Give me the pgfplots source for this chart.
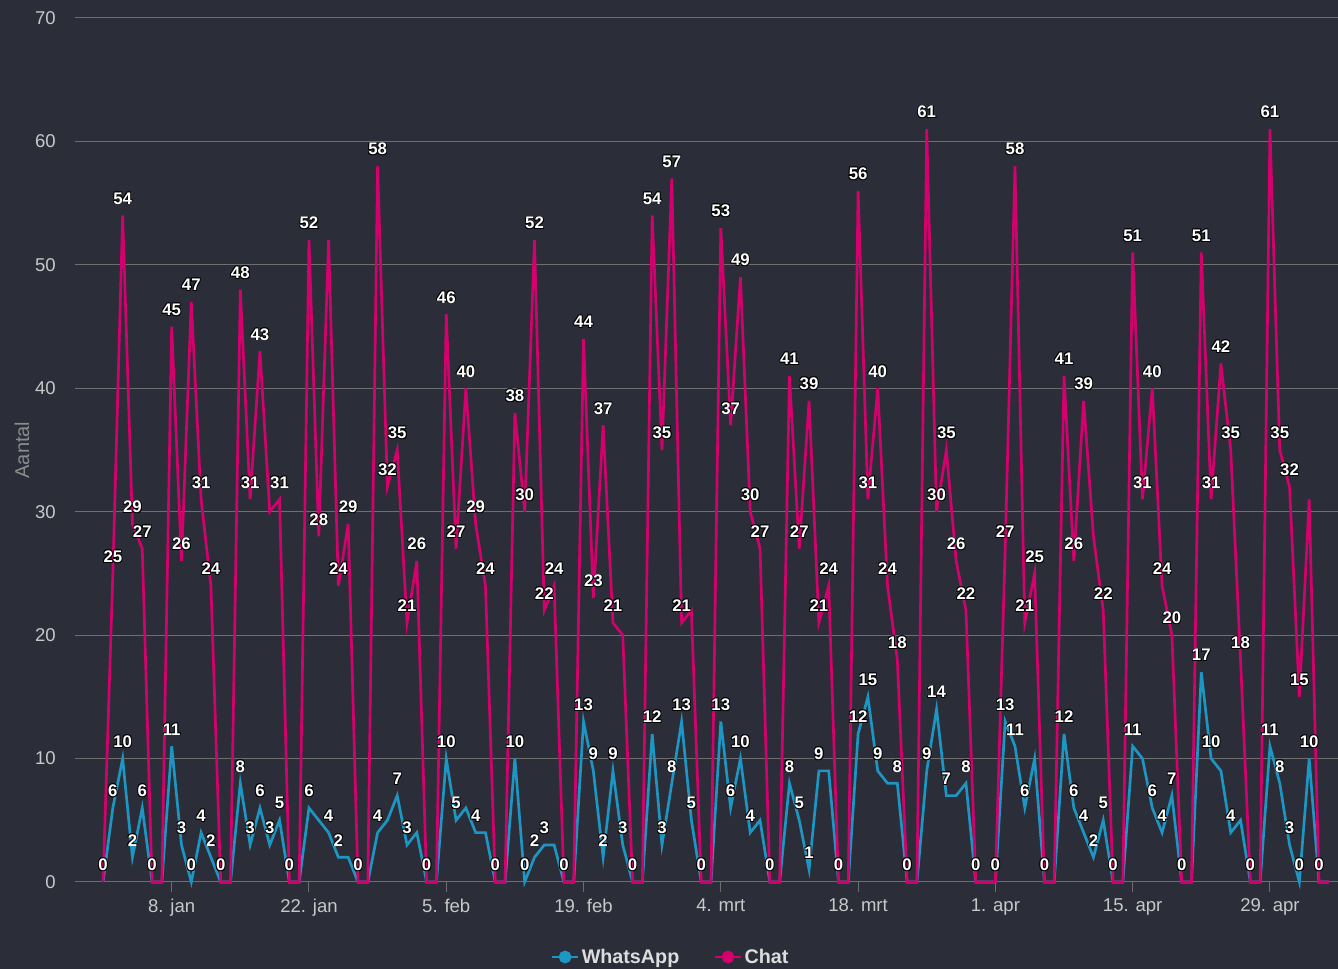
\documentclass[border=0pt]{standalone}
\usepackage{fontspec}
\setmainfont{Liberation Sans}
\usepackage{pgfplots}
\usepackage{pgfplotstable}
\pgfplotsset{compat=1.18}
\definecolor{bg}{HTML}{2B2E38}
\definecolor{gridc}{HTML}{6E6E6E}
\definecolor{tickc}{HTML}{C8C8C8}
\definecolor{chatc}{HTML}{D4006E}
\definecolor{wac}{HTML}{1E96C3}
\definecolor{ttlc}{HTML}{8C8C8C}
\definecolor{legc}{HTML}{DDDDDD}
\newcommand\tickfont{\fontsize{13.9}{16}\selectfont}
\newcommand\lblfont{\fontsize{12.6}{14}\selectfont\bfseries}
% full series: day (0 = 8 jan), Chat, WhatsApp
\pgfplotstableread{
d c w
-7 0 0
-6 25 6
-5 54 10
-4 29 2
-3 27 6
-2 0 0
-1 0 0
0 45 11
1 26 3
2 47 0
3 31 4
4 24 2
5 0 0
6 0 0
7 48 8
8 31 3
9 43 6
10 30 3
11 31 5
12 0 0
13 0 0
14 52 6
15 28 5
16 52 4
17 24 2
18 29 2
19 0 0
20 0 0
21 58 4
22 32 5
23 35 7
24 21 3
25 26 4
26 0 0
27 0 0
28 46 10
29 27 5
30 40 6
31 29 4
32 24 4
33 0 0
34 0 0
35 38 10
36 30 0
37 52 2
38 22 3
39 24 3
40 0 0
41 0 0
42 44 13
43 23 9
44 37 2
45 21 9
46 20 3
47 0 0
48 0 0
49 54 12
50 35 3
51 57 8
52 21 13
53 22 5
54 0 0
55 0 0
56 53 13
57 37 6
58 49 10
59 30 4
60 27 5
61 0 0
62 0 0
63 41 8
64 27 5
65 39 1
66 21 9
67 24 9
68 0 0
69 0 0
70 56 12
71 31 15
72 40 9
73 24 8
74 18 8
75 0 0
76 0 0
77 61 9
78 30 14
79 35 7
80 26 7
81 22 8
82 0 0
83 0 0
84 0 0
85 27 13
86 58 11
87 21 6
88 25 10
89 0 0
90 0 0
91 41 12
92 26 6
93 39 4
94 28 2
95 22 5
96 0 0
97 0 0
98 51 11
99 31 10
100 40 6
101 24 4
102 20 7
103 0 0
104 0 0
105 51 17
106 31 10
107 42 9
108 35 4
109 18 5
110 0 0
111 0 0
112 61 11
113 35 8
114 32 3
115 15 0
116 31 10
117 0 0
118 0 0
}\data
% points whose Chat label is shown
\pgfplotstableread{
d c
-6 25
-5 54
-4 29
-3 27
0 45
1 26
2 47
3 31
4 24
7 48
8 31
9 43
11 31
14 52
15 28
17 24
18 29
21 58
22 32
23 35
24 21
25 26
28 46
29 27
30 40
31 29
32 24
35 38
36 30
37 52
38 22
39 24
42 44
43 23
44 37
45 21
49 54
50 35
51 57
52 21
56 53
57 37
58 49
59 30
60 27
63 41
64 27
65 39
66 21
67 24
70 56
71 31
72 40
73 24
74 18
77 61
78 30
79 35
80 26
81 22
85 27
86 58
87 21
88 25
91 41
92 26
93 39
95 22
98 51
99 31
100 40
101 24
102 20
105 51
106 31
107 42
108 35
109 18
112 61
113 35
114 32
115 15
}\clbl
% points whose WhatsApp label is shown
\pgfplotstableread{
d w
-7 0
-6 6
-5 10
-4 2
-3 6
-2 0
0 11
1 3
2 0
3 4
4 2
5 0
7 8
8 3
9 6
10 3
11 5
12 0
14 6
16 4
17 2
19 0
21 4
23 7
24 3
26 0
28 10
29 5
31 4
33 0
35 10
36 0
37 2
38 3
40 0
42 13
43 9
44 2
45 9
46 3
47 0
49 12
50 3
51 8
52 13
53 5
54 0
56 13
57 6
58 10
59 4
61 0
63 8
64 5
65 1
66 9
68 0
70 12
71 15
72 9
74 8
75 0
77 9
78 14
79 7
81 8
82 0
84 0
85 13
86 11
87 6
89 0
91 12
92 6
93 4
94 2
95 5
96 0
98 11
100 6
101 4
102 7
103 0
105 17
106 10
108 4
110 0
112 11
113 8
114 3
115 0
116 10
117 0
}\wlbl
\pgfplotsset{
  lbl/.style n args={3}{only marks, mark=*, mark size=0pt, forget plot, point meta=y,
    nodes near coords,
    nodes near coords style={anchor=center, xshift=#1, yshift=12.75pt+#2, font=\lblfont, text=#3}},
}
\begin{document}
\begin{tikzpicture}
\fill[bg] (-56.25pt,-65.25pt) rectangle (947.25pt,661.5pt);
\begin{axis}[
  at={(0pt,0pt)}, anchor=south west,
  scale only axis, width=947.25pt, height=648pt,
  xmin=-9.86, xmax=118.94, ymin=0, ymax=70,
  axis x line*=bottom, axis y line*=left,
  x axis line style={draw=gridc, line width=0.75pt, -},
  y axis line style={draw=none},
  ytick={0,10,...,70},
  xtick={0,14,...,112},
  xticklabels={8. jan,22. jan,5. feb,19. feb,4. mrt,18. mrt,1. apr,15. apr,29. apr},
  ytick style={draw=none},
  xtick style={draw=gridc, line width=0.75pt},
  tick align=outside, major tick length=7.5pt,
  ymajorgrids, grid style={draw=gridc, line width=0.75pt},
  /pgf/number format/assume math mode=true,
  yticklabel style={text=tickc, font=\tickfont, anchor=east, inner sep=0pt, xshift=-6.75pt},
  xticklabel style={text=tickc, font=\tickfont, anchor=north, inner sep=0pt, yshift=-5pt},
  ylabel={Aantal},
  ylabel style={at={(axis description cs:-0.042,0.5)}, anchor=center, text=ttlc, font=\fontsize{15}{17}\selectfont},
  legend columns=2,
  legend style={at={(0.472,-0.0868)}, anchor=center, draw=none, fill=none, text=legc,
    font=\fontsize{14.8}{17}\selectfont\bfseries,
    /tikz/every even column/.append style={column sep=24pt}},
  legend image code/.code={\draw[#1, line width=2pt] (0pt,0pt) -- (19pt,0pt); \fill[#1] (9.5pt,0pt) circle (3.75pt);},
  clip=false,
]
\addplot[wac, line width=2pt, mark=none] table[x=d, y=w] {\data};
\addlegendentry{WhatsApp}
\addplot[chatc, line width=2pt, mark=none] table[x=d, y=c] {\data};
\addlegendentry{Chat}
% dark outline copies
\addplot[lbl={0.6pt}{0.6pt}{black}] table[x=d, y=w] {\wlbl};
\addplot[lbl={-0.6pt}{-0.6pt}{black}] table[x=d, y=w] {\wlbl};
\addplot[lbl={0.6pt}{-0.6pt}{black}] table[x=d, y=w] {\wlbl};
\addplot[lbl={-0.6pt}{0.6pt}{black}] table[x=d, y=w] {\wlbl};
\addplot[lbl={0.6pt}{0.6pt}{black}] table[x=d, y=c] {\clbl};
\addplot[lbl={-0.6pt}{-0.6pt}{black}] table[x=d, y=c] {\clbl};
\addplot[lbl={0.6pt}{-0.6pt}{black}] table[x=d, y=c] {\clbl};
\addplot[lbl={-0.6pt}{0.6pt}{black}] table[x=d, y=c] {\clbl};
% white labels
\addplot[lbl={0pt}{0pt}{white}] table[x=d, y=w] {\wlbl};
\addplot[lbl={0pt}{0pt}{white}] table[x=d, y=c] {\clbl};
\end{axis}
\pgfresetboundingbox
\useasboundingbox (-56.25pt,-65.25pt) rectangle (947.25pt,661.5pt);
\end{tikzpicture}
\end{document}
